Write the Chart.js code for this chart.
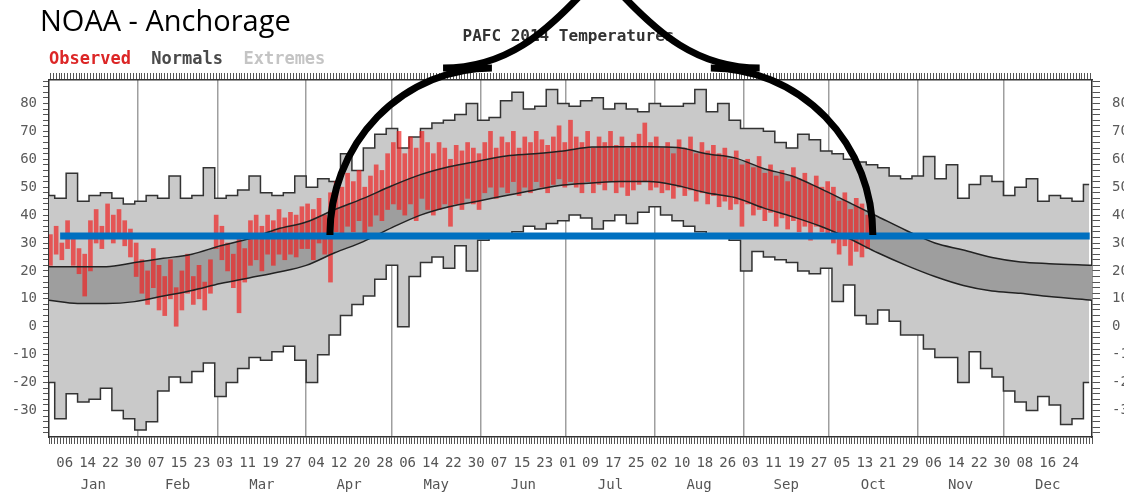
<!DOCTYPE html>
<html>
<head>
<meta charset="utf-8">
<script src="https://cdn.jsdelivr.net/npm/chart.js@4.4.1/dist/chart.umd.min.js"></script>
<style>
  html, body { margin: 0; padding: 0; background: #fff; overflow: hidden; }
  #wrap { position: relative; width: 1124px; height: 497px; }
</style>
</head>
<body>
<div id="wrap"><canvas id="chart" width="1124" height="497"></canvas></div>
<script>
// --- data ---
const MONTH_NAMES = ['Jan', 'Feb', 'Mar', 'Apr', 'May', 'Jun', 'Jul', 'Aug', 'Sep', 'Oct', 'Nov', 'Dec'];
const MONTH_STARTS = [0, 31, 59, 90, 120, 151, 181, 212, 243, 273, 304, 334, 365];

// record extremes, one value every 4 days starting Jan 1
const REC_STEP = 4;
const REC_HIGH = [47, 46, 55, 45, 47, 48, 46, 44, 45, 47, 46, 54, 46, 47, 57, 46, 47, 49, 54, 48,
  47, 48, 54, 50, 53, 52, 62, 56, 64, 69, 71, 64, 68, 71, 73, 74, 76, 80, 74, 75,
  81, 84, 78, 79, 85, 80, 79, 81, 82, 78, 80, 78, 77, 80, 79, 79, 80, 85, 77, 80,
  74, 71, 71, 70, 66, 64, 69, 67, 63, 62, 60, 59, 58, 57, 54, 53, 54, 61, 53, 58,
  46, 51, 54, 52, 47, 50, 53, 45, 47, 46, 45, 51];
const REC_LOW = [-20, -33, -24, -27, -26, -22, -30, -33, -37, -34, -23, -18, -20, -16, -13, -25, -20, -15, -11, -12,
  -9, -7, -12, -20, -10, -3, 4, 8, 11, 17, 22, 0, 18, 23, 25, 21, 29, 20, 31, 32,
  33, 34, 36, 35, 37, 38, 40, 39, 35, 38, 40, 37, 41, 43, 40, 38, 36, 34, 33, 32,
  31, 20, 27, 25, 24, 23, 20, 19, 21, 9, 15, 4, 1, 6, 2, -3, -3, -8, -11, -11,
  -20, -9, -15, -18, -23, -27, -30, -25, -28, -35, -33, -20];

// normals
const NORM_DAYS = [0, 10, 20, 30, 40, 50, 60, 70, 80, 90, 100, 110, 120, 130, 140, 150, 160, 170, 180,
  190, 200, 210, 220, 230, 240, 250, 260, 270, 280, 290, 300, 310, 320, 330, 340, 350, 365];
const NORM_HIGH = [21.5, 21.5, 21.5, 23, 24.5, 26, 29, 31.5, 35, 37.5, 42, 46, 50.5, 54.5, 57.3, 59.3, 61.2, 62, 63,
  64.4, 64.5, 64.5, 64.2, 62, 60.5, 56.7, 54, 49.5, 44.5, 39.5, 34.5, 30, 27.5, 24.8, 23.2, 22.6, 22];
const NORM_LOW = [9.5, 8.3, 8.3, 9, 11, 13, 15.5, 17.5, 19.5, 22, 26.5, 30.5, 35.5, 40, 43, 45, 47, 49, 50.8,
  51.5, 52, 52, 50.5, 48, 46.3, 42.6, 39.5, 36, 31.6, 26.5, 22, 18, 14.8, 12.8, 12, 10.8, 9.5];

// observed 2014, one bar every 2 days from Jan 1
const OBS_STEP = 2;
const OBS_HIGH = [33, 36, 30, 38, 32, 28, 26, 38, 42, 36, 44, 40, 42, 38, 35, 30,
  24, 20, 28, 22, 18, 24, 14, 20, 26, 18, 22, 16, 24, 40,
  36, 30, 26, 32, 28, 38, 40, 36, 40, 38, 42, 39, 41, 40, 43,
  44, 42, 46, 40, 48, 52, 50, 55, 52, 56, 50, 54, 58, 56, 62,
  66, 70, 62, 68, 64, 70, 66, 62, 66, 64, 60, 65, 63, 66, 64, 62,
  66, 70, 64, 68, 66, 70, 64, 68, 66, 70, 67, 65, 68, 72, 66,
  74, 68, 66, 70, 64, 68, 66, 70, 65, 68, 64, 66, 69, 73, 66,
  68, 64, 66, 62, 67, 64, 68, 62, 66, 63, 65, 62, 64, 60, 63, 58,
  60, 57, 61, 55, 58, 54, 56, 52, 57, 53, 55, 51, 54, 50, 52,
  50, 45, 48, 42, 46, 44, 40];
const OBS_LOW = [22, 26, 24, 28, 22, 19, 11, 20, 30, 28, 32, 30, 33, 29, 25, 18,
  12, 8, 14, 6, 4, 10, 0, 6, 12, 8, 10, 6, 12, 28,
  24, 20, 14, 5, 16, 22, 24, 20, 26, 22, 26, 24, 26, 25, 28,
  28, 24, 30, 26, 16, 34, 32, 36, 34, 38, 32, 36, 40, 38, 42,
  44, 42, 40, 44, 38, 46, 42, 40, 42, 44, 36, 44, 42, 46, 44, 42,
  48, 50, 46, 50, 48, 52, 47, 50, 48, 52, 50, 48, 51, 53, 50,
  52, 50, 48, 52, 48, 51, 49, 52, 48, 50, 47, 49, 51, 52, 49,
  50, 48, 49, 46, 50, 47, 49, 45, 48, 44, 47, 43, 45, 42, 44, 36,
  44, 40, 42, 38, 41, 36, 39, 35, 38, 34, 36, 31, 36, 34, 32,
  30, 26, 29, 22, 27, 25, 28];

// freezing line drawn on the slide
const FREEZE_DAYS = [3.9, 364.2];
const FREEZE_TEMP = [32.5, 32.5];

const Y_MIN = -39.5;
const Y_MAX = 88.4;
const Y_LABELS = [-30, -20, -10, 0, 10, 20, 30, 40, 50, 60, 70, 80];
const FIRST_DAY_LABEL = 5;   // Jan 06
const DAY_LABEL_EVERY = 8;

const LEGEND = [
  { text: 'Observed', color: '#dc2626' },
  { text: 'Normals', color: '#4a4a4a' },
  { text: 'Extremes', color: '#c4c4c4' }
];

// slide annotation (days / degF)
const ARCH = { foot: 32.9, top: 92.7, neckTop: 122.5, neckMid: 104.6,
  leftFoot: 98.3, leftShoulder: 155, leftNeck: [137.9, 159.6, 173.5, 189.3],
  rightFoot: 288.3, rightShoulder: 231.6, rightNeck: [248.7, 227, 213.1, 197.3] };

// --- helpers ---
const pts = (xs, ys) => ys.map((v, i) => ({ x: xs[i], y: v }));
const recDays = REC_HIGH.map((_, i) => i * REC_STEP);
const obsBars = OBS_HIGH.map((hi, i) => ({ x: i * OBS_STEP + 0.5, y: [OBS_LOW[i], hi] }));
const DAY_TICKS = Array.from({ length: 365 }, (_, d) => d + 0.5);
const Y_TICKS = [];
for (let v = -38; v <= 88; v += 2) Y_TICKS.push(v);

const dayLabel = (v) => {
  const d = Math.floor(v);
  if ((d - FIRST_DAY_LABEL) % DAY_LABEL_EVERY !== 0) return '';
  let m = 0;
  while (MONTH_STARTS[m + 1] <= d) m++;
  return String(d - MONTH_STARTS[m] + 1).padStart(2, '0');
};

const mono = "'DejaVu Sans Mono', monospace";
const axisFont = { family: mono, size: 14 };

const yAxis = (position, width, tickLen, pad) => ({
  type: 'linear', position, min: Y_MIN, max: Y_MAX,
  afterBuildTicks: ax => { ax.ticks = Y_TICKS.map(v => ({ value: v })); },
  afterFit: ax => { ax.width = width; },
  grid: { drawOnChartArea: false, tickLength: tickLen, color: '#555' },
  border: { display: true, color: '#333', width: 1.5 },
  ticks: { padding: pad, color: '#5a5a5a', font: axisFont, autoSkip: false,
    callback: v => (Y_LABELS.includes(v) ? String(v) : '') }
});

const overlay = {
  id: 'overlay',
  afterDraw(chart) {
    const { ctx, chartArea: a, scales } = chart;
    const X = v => scales.x.getPixelForValue(v);
    const Y = v => scales.y.getPixelForValue(v);
    ctx.save();

    // legend row
    ctx.font = `bold 17px ${mono}`;
    ctx.textBaseline = 'alphabetic';
    ctx.textAlign = 'left';
    let lx = a.left;
    LEGEND.forEach(item => {
      ctx.fillStyle = item.color;
      ctx.fillText(item.text, lx, 64);
      lx += ctx.measureText(item.text + '  ').width;
    });

    // plot title
    ctx.font = `bold 16px ${mono}`;
    ctx.fillStyle = '#333';
    ctx.textAlign = 'center';
    ctx.fillText('PAFC 2014 Temperatures', (a.left + a.right) / 2 - 2, 41);

    // slide caption
    ctx.font = "29px 'Open Sans', sans-serif";
    ctx.fillStyle = '#000';
    ctx.textAlign = 'left';
    ctx.fillText('NOAA - Anchorage', 40, 31);

    // arch annotation
    ctx.strokeStyle = '#000';
    ctx.lineWidth = 7;
    ctx.lineCap = 'butt';
    const fy = Y(ARCH.foot), ty = Y(ARCH.top), my = Y(ARCH.neckMid), ny = Y(ARCH.neckTop);
    const ry = fy - ty;

    ctx.beginPath();
    ctx.ellipse(X(ARCH.leftShoulder), fy, X(ARCH.leftShoulder) - X(ARCH.leftFoot), ry, 0, Math.PI, 1.5 * Math.PI);
    ctx.stroke();
    ctx.beginPath();
    ctx.ellipse(X(ARCH.rightShoulder), fy, X(ARCH.rightFoot) - X(ARCH.rightShoulder), ry, 0, 1.5 * Math.PI, 2 * Math.PI);
    ctx.stroke();

    [ARCH.leftNeck, ARCH.rightNeck].forEach(n => {
      ctx.beginPath();
      ctx.moveTo(X(n[0]), ty);
      ctx.bezierCurveTo(X(n[1]), ty, X(n[2]), my, X(n[3]), ny);
      ctx.stroke();
    });
    ctx.restore();
  }
};

const noBorder = 'rgba(0,0,0,0)';

new Chart(document.getElementById('chart'), {
  type: 'line',
  data: {
    datasets: [
      { label: 'Record high', data: pts(recDays, REC_HIGH), stepped: 'middle', borderColor: '#333',
        borderWidth: 1.5, pointRadius: 0, fill: '+1', backgroundColor: '#c9c9c9', order: 10 },
      { label: 'Record low', data: pts(recDays, REC_LOW), stepped: 'middle', borderColor: '#333',
        borderWidth: 1.5, pointRadius: 0, fill: false, order: 9 },
      { label: 'Normal band high', data: pts(NORM_DAYS, NORM_HIGH), cubicInterpolationMode: 'monotone',
        borderColor: noBorder, borderWidth: 0, pointRadius: 0, fill: '+1', backgroundColor: '#9e9e9e', order: 8 },
      { label: 'Normal band low', data: pts(NORM_DAYS, NORM_LOW), cubicInterpolationMode: 'monotone',
        borderColor: noBorder, borderWidth: 0, pointRadius: 0, fill: false, order: 7 },
      { type: 'bar', label: 'Observed', data: obsBars, backgroundColor: 'rgba(240,30,30,0.68)',
        barThickness: 4, grouped: false, order: 6 },
      { label: 'Normal high', data: pts(NORM_DAYS, NORM_HIGH), cubicInterpolationMode: 'monotone',
        borderColor: '#222', borderWidth: 1.5, pointRadius: 0, fill: false, order: 5 },
      { label: 'Normal low', data: pts(NORM_DAYS, NORM_LOW), cubicInterpolationMode: 'monotone',
        borderColor: '#222', borderWidth: 1.5, pointRadius: 0, fill: false, order: 4 },
      { label: 'Freezing', data: pts(FREEZE_DAYS, FREEZE_TEMP), borderColor: '#0070c0',
        borderWidth: 7, borderCapStyle: 'butt', pointRadius: 0, fill: false, order: 1 }
    ]
  },
  options: {
    responsive: false,
    devicePixelRatio: 1,
    animation: false,
    events: [],
    layout: { padding: { top: 72, left: 0, right: 0, bottom: 0 } },
    plugins: { legend: { display: false }, title: { display: false }, tooltip: { enabled: false } },
    scales: {
      x: {
        type: 'linear', position: 'bottom', weight: 0, min: 0, max: 365, offset: false,
        afterBuildTicks: ax => { ax.ticks = DAY_TICKS.map(v => ({ value: v })); },
        afterFit: ax => { ax.height = 38; },
        grid: { drawOnChartArea: false, tickLength: 7, color: '#555' },
        border: { display: true, color: '#333', width: 1.5 },
        ticks: { autoSkip: false, maxRotation: 0, minRotation: 0, padding: 11, color: '#555',
          font: axisFont, callback: v => dayLabel(v) }
      },
      xmon: {
        type: 'linear', position: 'bottom', weight: 1, min: 0, max: 365, offset: false,
        afterBuildTicks: ax => {
          ax.ticks = MONTH_NAMES.map((_, i) => ({ value: (MONTH_STARTS[i] + MONTH_STARTS[i + 1]) / 2 }));
        },
        afterFit: ax => { ax.height = 22; },
        grid: { display: false, drawTicks: false },
        border: { display: false },
        ticks: { autoSkip: false, maxRotation: 0, minRotation: 0, padding: 2, color: '#555',
          font: axisFont, callback: (v, i) => MONTH_NAMES[i] }
      },
      xt: {
        type: 'linear', position: 'top', weight: 0, min: 0, max: 365, offset: false,
        afterBuildTicks: ax => { ax.ticks = DAY_TICKS.map(v => ({ value: v })); },
        afterFit: ax => { ax.height = 8; },
        grid: { drawOnChartArea: false, tickLength: 7, color: '#555' },
        border: { display: true, color: '#333', width: 1.5 },
        ticks: { display: false }
      },
      xg: {
        type: 'linear', position: 'top', weight: 2, min: 0, max: 365, offset: false, z: 1,
        afterBuildTicks: ax => { ax.ticks = MONTH_STARTS.slice(1, -1).map(v => ({ value: v })); },
        afterFit: ax => { ax.height = 0; },
        grid: { drawOnChartArea: true, drawTicks: false, color: 'rgba(80,80,80,0.55)', lineWidth: 1.5 },
        border: { display: false },
        ticks: { display: false }
      },
      y: yAxis('left', 49, 6, 6),
      y2: yAxis('right', 32, 8, 12)
    }
  },
  plugins: [overlay]
});
</script>
</body>
</html>
